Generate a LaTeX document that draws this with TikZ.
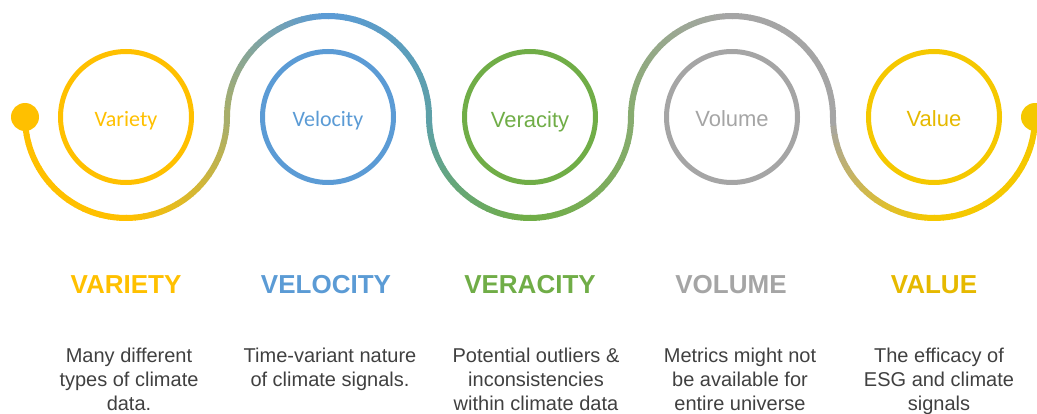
\documentclass[tikz,border=0pt]{standalone}
\usepackage{fontspec}
\setmainfont{Liberation Sans}
\newfontfamily\carlito{Carlito}

\definecolor{varcol}{HTML}{FFC000}
\definecolor{velcol}{HTML}{5B9BD5}
\definecolor{vercol}{HTML}{70AD47}
\definecolor{volcol}{HTML}{A5A5A5}
\definecolor{valcol}{HTML}{F5C800}
\definecolor{valhead}{HTML}{E6B900}
\definecolor{desccol}{HTML}{404040}
% colours along the wave
\definecolor{wyel}{HTML}{FFC000}
\definecolor{wolive}{HTML}{A8AE6A}
\definecolor{wblue}{HTML}{5B9BD5}
\definecolor{wteal}{HTML}{5DA0A8}
\definecolor{wgreen}{HTML}{70AD47}
\definecolor{wgrgreen}{HTML}{88AC70}
\definecolor{wgray}{HTML}{A5A5A5}
\definecolor{wval}{HTML}{F5C800}

\tikzset{
  ring/.style={circle, draw=#1, text=#1, line width=5pt, minimum size=131pt, inner sep=0pt,
    text height=22pt, text depth=2pt},
  ringfont/.style={font=\fontsize{22}{26}\selectfont},
  calibrifont/.style={font=\carlito\fontsize{22}{26}\selectfont},
  heading/.style={font=\fontsize{26}{30}\selectfont\bfseries, text=#1, inner sep=0pt},
  desc/.style={font=\fontsize{20}{24}\selectfont, text=desccol, align=center, anchor=north, inner sep=0pt},
  dot/.style={circle, fill=#1, minimum size=28pt, inner sep=0pt},
}

\begin{document}
\begin{tikzpicture}[x=1pt,y=1pt]
\useasboundingbox (0,0) rectangle (1037,413);

% wave, drawn a quarter turn at a time so the colour shifts along it
\foreach \qx/\qs/\qd/\qa/\qb in {126/180/1/wyel/wyel, 126/270/1/wyel/wolive,
    328/180/-1/wolive/wblue, 328/90/-1/wblue/wteal,
    530/180/1/wteal/wgreen, 530/270/1/wgreen/wgrgreen,
    732/180/-1/wgrgreen/wgray, 732/90/-1/wgray/wgray,
    934/180/1/wgray/wval, 934/270/1/wval/wval}{
  \foreach \k in {0,...,17}{
    \pgfmathtruncatemacro\pct{100-100*\k/17}
    \pgfmathsetmacro\ang{\qs+\qd*5*\k}
    \draw[line width=6pt, draw=\qa!\pct!\qb] ([shift={(\ang:101)}]\qx,296)
      arc[start angle=\ang, delta angle=\qd*5.4, radius=101];
  }
}
\node[dot=wyel] (wavestart) at (25,296) {};
\node[dot=wval] (waveend) at (1035,296) {};

% rings
\node[ring=varcol, calibrifont] (variety) at (126,296) {Variety};
\node[ring=velcol, calibrifont] (velocity) at (328,296) {Velocity};
\node[ring=vercol, ringfont, text depth=0pt] (veracity) at (530,296) {Veracity};
\node[ring=volcol, ringfont] (volume) at (732,296) {Volume};
\node[ring=valcol, ringfont, text=valhead] (value) at (934,296) {Value};

% headings
\node[heading=varcol] (varietyhead) at (126,128) {VARIETY};
\node[heading=velcol] (velocityhead) at (326,128) {VELOCITY};
\node[heading=vercol] (veracityhead) at (530,128) {VERACITY};
\node[heading=volcol] (volumehead) at (731,128) {VOLUME};
\node[heading=valhead] (valuehead) at (934,128) {VALUE};

% descriptions
\node[desc] (varietytext) at (129,65) {Many different\\types of climate\\data.};
\node[desc] (velocitytext) at (330,65) {Time-variant nature\\of climate signals.};
\node[desc] (veracitytext) at (536,65) {Potential outliers \&\\inconsistencies\\within climate data};
\node[desc] (volumetext) at (740,65) {Metrics might not\\be available for\\entire universe};
\node[desc] (valuetext) at (939,65) {The efficacy of\\ESG and climate\\signals};
\end{tikzpicture}
\end{document}
